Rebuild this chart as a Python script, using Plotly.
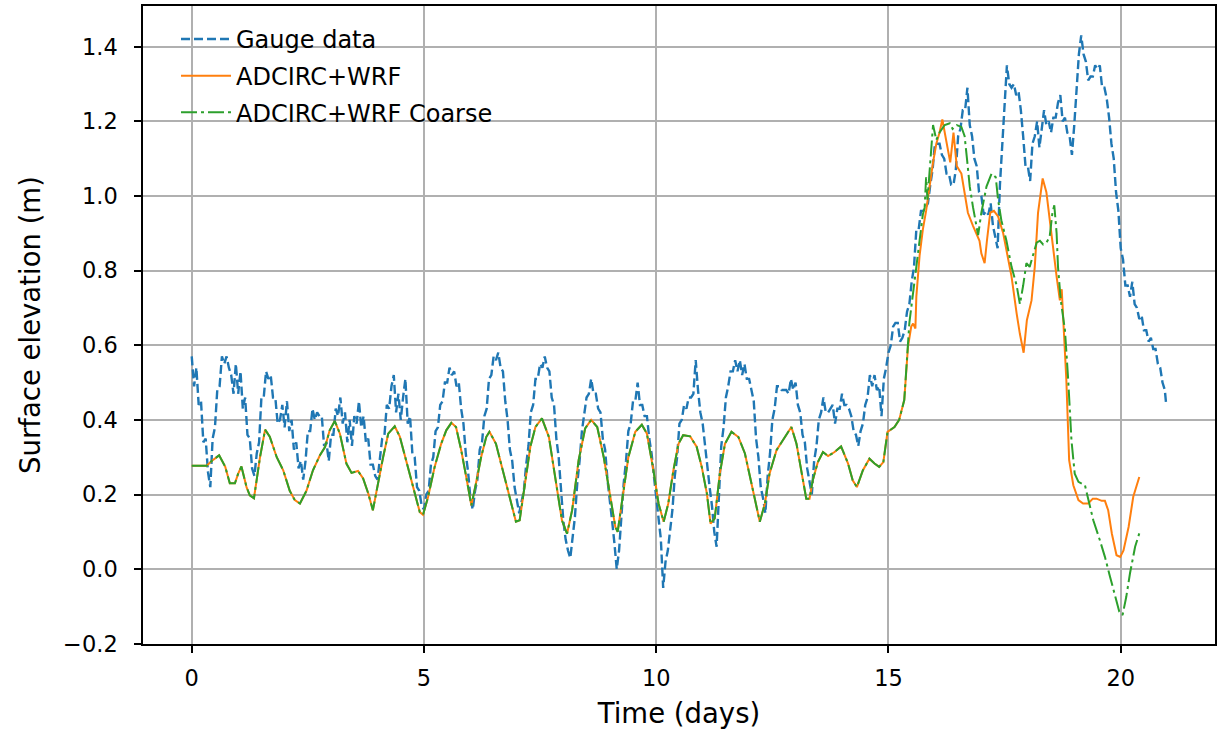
import plotly.graph_objects as go

# ---------------- data ----------------
gauge_t = [
    0.00, 0.05, 0.10, 0.15, 0.20, 0.25, 0.30, 0.35, 0.40, 0.45, 0.50, 0.55, 0.60, 0.65, 0.70, 0.75, 0.80, 0.85, 0.90, 0.95, 1.00,
    1.05, 1.10, 1.15, 1.20, 1.25, 1.30, 1.35, 1.40, 1.45, 1.50, 1.55, 1.60, 1.65, 1.70, 1.75, 1.80, 1.85, 1.90, 1.95, 2.00,
    2.05, 2.10, 2.15, 2.20, 2.25, 2.30, 2.35, 2.40, 2.45, 2.50, 2.55, 2.60, 2.65, 2.70, 2.75, 2.80, 2.85, 2.90, 2.95, 3.00,
    3.05, 3.10, 3.15, 3.20, 3.25, 3.30, 3.35, 3.40, 3.45, 3.50, 3.55, 3.60, 3.65, 3.70, 3.75, 3.80, 3.85, 3.90, 3.95, 4.00,
    4.05, 4.10, 4.15, 4.20, 4.25, 4.30, 4.35, 4.40, 4.45, 4.50, 4.55, 4.60, 4.65, 4.70, 4.75, 4.80, 4.85, 4.90, 4.95, 5.00,
    5.05, 5.10, 5.15, 5.20, 5.25, 5.30, 5.35, 5.40, 5.45, 5.50, 5.55, 5.60, 5.65, 5.70, 5.75, 5.80, 5.85, 5.90, 5.95, 6.00,
    6.05, 6.10, 6.15, 6.20, 6.25, 6.30, 6.35, 6.40, 6.45, 6.50, 6.55, 6.60, 6.65, 6.70, 6.75, 6.80, 6.85, 6.90, 6.95, 7.00,
    7.05, 7.10, 7.15, 7.20, 7.25, 7.30, 7.35, 7.40, 7.45, 7.50, 7.55, 7.60, 7.65, 7.70, 7.75, 7.80, 7.85, 7.90, 7.95, 8.00,
    8.05, 8.10, 8.15, 8.20, 8.25, 8.30, 8.35, 8.40, 8.45, 8.50, 8.55, 8.60, 8.65, 8.70, 8.75, 8.80, 8.85, 8.90, 8.95, 9.00,
    9.05, 9.10, 9.15, 9.20, 9.25, 9.30, 9.35, 9.40, 9.45, 9.50, 9.55, 9.60, 9.65, 9.70, 9.75, 9.80, 9.85, 9.90, 9.95, 10.00,
    10.05, 10.10, 10.15, 10.20, 10.25, 10.30, 10.35, 10.40, 10.45, 10.50, 10.55, 10.60, 10.65, 10.70, 10.75, 10.80, 10.85, 10.90, 10.95, 11.00,
    11.05, 11.10, 11.15, 11.20, 11.25, 11.30, 11.35, 11.40, 11.45, 11.50, 11.55, 11.60, 11.65, 11.70, 11.75, 11.80, 11.85, 11.90, 11.95, 12.00,
    12.05, 12.10, 12.15, 12.20, 12.25, 12.30, 12.35, 12.40, 12.45, 12.50, 12.55, 12.60, 12.65, 12.70, 12.75, 12.80, 12.85, 12.90, 12.95, 13.00,
    13.05, 13.10, 13.15, 13.20, 13.25, 13.30, 13.35, 13.40, 13.45, 13.50, 13.55, 13.60, 13.65, 13.70, 13.75, 13.80, 13.85, 13.90, 13.95, 14.00,
    14.05, 14.10, 14.15, 14.20, 14.25, 14.30, 14.35, 14.40, 14.45, 14.50, 14.55, 14.60, 14.65, 14.70, 14.75, 14.80, 14.85, 14.90, 14.95, 15.00,
    15.05, 15.10, 15.15, 15.20, 15.25, 15.30, 15.35, 15.40, 15.45, 15.50, 15.55, 15.60, 15.65, 15.70, 15.75, 15.80, 15.85, 15.90, 15.95, 16.00,
    16.05, 16.10, 16.15, 16.20, 16.25, 16.30, 16.35, 16.40, 16.45, 16.50, 16.55, 16.60, 16.65, 16.70, 16.75, 16.80, 16.85, 16.90, 16.95, 17.00,
    17.05, 17.10, 17.15, 17.20, 17.25, 17.30, 17.35, 17.40, 17.45, 17.50, 17.55, 17.60, 17.65, 17.70, 17.75, 17.80, 17.85, 17.90, 17.95, 18.00,
    18.05, 18.10, 18.15, 18.20, 18.25, 18.30, 18.35, 18.40, 18.45, 18.50, 18.55, 18.60, 18.65, 18.70, 18.75, 18.80, 18.85, 18.90, 18.95, 19.00,
    19.05, 19.10, 19.15, 19.20, 19.25, 19.30, 19.35, 19.40, 19.45, 19.50, 19.55, 19.60, 19.65, 19.70, 19.75, 19.80, 19.85, 19.90, 19.95, 20.00,
    20.05, 20.10, 20.15, 20.20, 20.25, 20.30, 20.35, 20.40, 20.45, 20.50, 20.55, 20.60, 20.65, 20.70, 20.75, 20.80, 20.85, 20.90, 20.95, 20.98]
gauge_y = [
    0.57, 0.49, 0.54, 0.44, 0.45, 0.34, 0.35, 0.26, 0.22, 0.35, 0.38, 0.48, 0.49, 0.57, 0.55, 0.57, 0.54, 0.52, 0.47, 0.55, 0.47,
    0.53, 0.43, 0.46, 0.36, 0.35, 0.27, 0.25, 0.31, 0.34, 0.46, 0.46, 0.53, 0.51, 0.52, 0.46, 0.46, 0.39, 0.40, 0.44, 0.38,
    0.45, 0.37, 0.40, 0.32, 0.34, 0.27, 0.29, 0.24, 0.29, 0.37, 0.37, 0.43, 0.40, 0.42, 0.41, 0.41, 0.33, 0.34, 0.29, 0.36,
    0.36, 0.43, 0.41, 0.46, 0.39, 0.42, 0.34, 0.40, 0.33, 0.41, 0.39, 0.45, 0.38, 0.41, 0.34, 0.35, 0.28, 0.28, 0.25, 0.24,
    0.29, 0.35, 0.36, 0.44, 0.43, 0.49, 0.52, 0.42, 0.47, 0.40, 0.46, 0.51, 0.39, 0.41, 0.31, 0.30, 0.22, 0.21, 0.17, 0.16,
    0.20, 0.21, 0.28, 0.30, 0.37, 0.38, 0.44, 0.45, 0.50, 0.50, 0.54, 0.52, 0.53, 0.49, 0.50, 0.43, 0.39, 0.31, 0.26, 0.19,
    0.16, 0.21, 0.24, 0.32, 0.34, 0.41, 0.43, 0.51, 0.52, 0.57, 0.56, 0.58, 0.54, 0.53, 0.45, 0.40, 0.32, 0.29, 0.22, 0.18,
    0.15, 0.18, 0.21, 0.28, 0.33, 0.42, 0.44, 0.51, 0.51, 0.55, 0.54, 0.57, 0.54, 0.53, 0.46, 0.44, 0.35, 0.30, 0.20, 0.13,
    0.08, 0.05, 0.03, 0.09, 0.14, 0.23, 0.29, 0.37, 0.41, 0.46, 0.47, 0.51, 0.47, 0.47, 0.43, 0.42, 0.35, 0.32, 0.24, 0.19,
    0.13, 0.07, 0.00, 0.05, 0.14, 0.23, 0.29, 0.37, 0.39, 0.45, 0.45, 0.50, 0.44, 0.44, 0.41, 0.41, 0.35, 0.31, 0.25, 0.19,
    0.13, 0.08, -0.05, 0.02, 0.05, 0.10, 0.16, 0.25, 0.30, 0.39, 0.40, 0.44, 0.43, 0.46, 0.46, 0.47, 0.56, 0.48, 0.42, 0.39,
    0.33, 0.28, 0.22, 0.17, 0.10, 0.06, 0.21, 0.33, 0.38, 0.46, 0.49, 0.53, 0.53, 0.56, 0.53, 0.56, 0.52, 0.55, 0.51, 0.51,
    0.48, 0.45, 0.35, 0.30, 0.22, 0.19, 0.15, 0.25, 0.31, 0.40, 0.43, 0.49, 0.49, 0.48, 0.48, 0.48, 0.47, 0.51, 0.48, 0.50,
    0.44, 0.42, 0.36, 0.34, 0.27, 0.23, 0.20, 0.29, 0.33, 0.40, 0.42, 0.46, 0.42, 0.42, 0.43, 0.44, 0.39, 0.43, 0.43, 0.47,
    0.44, 0.44, 0.43, 0.41, 0.37, 0.36, 0.33, 0.37, 0.39, 0.44, 0.46, 0.52, 0.49, 0.52, 0.48, 0.49, 0.41, 0.51, 0.54, 0.58,
    0.60, 0.65, 0.66, 0.66, 0.61, 0.62, 0.64, 0.69, 0.71, 0.77, 0.81, 0.91, 0.91, 0.96, 0.96, 0.97, 0.98, 1.03, 1.07, 1.14,
    1.14, 1.14, 1.11, 1.10, 1.06, 1.06, 1.03, 1.03, 1.07, 1.16, 1.18, 1.23, 1.23, 1.29, 1.19, 1.16, 1.10, 1.08, 1.01, 1.00,
    0.95, 0.96, 0.95, 0.98, 0.92, 0.89, 0.86, 1.03, 1.14, 1.24, 1.35, 1.30, 1.29, 1.30, 1.27, 1.28, 1.23, 1.16, 1.08, 1.08,
    1.04, 1.14, 1.16, 1.20, 1.13, 1.18, 1.23, 1.19, 1.20, 1.17, 1.21, 1.21, 1.25, 1.27, 1.20, 1.21, 1.17, 1.16, 1.11, 1.19,
    1.28, 1.38, 1.43, 1.38, 1.36, 1.31, 1.32, 1.32, 1.35, 1.34, 1.35, 1.29, 1.29, 1.26, 1.21, 1.14, 1.10, 1.01, 0.96, 0.86,
    0.83, 0.76, 0.76, 0.73, 0.77, 0.71, 0.70, 0.67, 0.68, 0.64, 0.64, 0.61, 0.62, 0.59, 0.59, 0.55, 0.54, 0.50, 0.48, 0.44]

# model output, identical for both runs before ~day 15.4
model_t_early = [0.0, 0.32, 0.43, 0.59, 0.72, 0.82, 0.93, 1.0, 1.07, 1.18, 1.25, 1.34, 1.47, 1.58, 1.68,
                 1.83, 1.97, 2.11, 2.22, 2.33, 2.47, 2.61, 2.76, 2.87, 2.97, 3.08, 3.19, 3.33, 3.44,
                 3.58, 3.69, 3.80, 3.90, 4.01, 4.12, 4.23, 4.37, 4.48, 4.62, 4.76, 4.91, 4.98, 5.09,
                 5.23, 5.37, 5.48, 5.59, 5.69, 5.80, 5.91, 6.02, 6.12, 6.23, 6.34, 6.41, 6.55, 6.70,
                 6.84, 6.98, 7.06, 7.20, 7.29, 7.40, 7.54, 7.69, 7.83, 7.97, 8.08, 8.19, 8.33, 8.47,
                 8.60, 8.73, 8.87, 9.01, 9.12, 9.17, 9.26, 9.40, 9.55, 9.69, 9.80, 9.94, 10.05,
                 10.16, 10.26, 10.37, 10.48, 10.58, 10.73, 10.87, 10.98, 11.09, 11.17, 11.26, 11.37,
                 11.48, 11.62, 11.77, 11.91, 12.05, 12.16, 12.23, 12.34, 12.44, 12.59, 12.73, 12.91,
                 13.02, 13.12, 13.23, 13.30, 13.37, 13.48, 13.59, 13.70, 13.84, 13.98, 14.13, 14.23,
                 14.32, 14.45, 14.59, 14.70, 14.80, 14.89, 14.98, 15.13, 15.23, 15.34, 15.42]
model_y_early = [0.277, 0.277, 0.29, 0.305, 0.275, 0.23, 0.23, 0.256, 0.275, 0.22, 0.198, 0.19, 0.30, 0.374, 0.355,
                 0.30, 0.265, 0.21, 0.185, 0.176, 0.21, 0.265, 0.305, 0.327, 0.372, 0.397, 0.363, 0.283, 0.258,
                 0.263, 0.243, 0.203, 0.158, 0.23, 0.30, 0.363, 0.383, 0.355, 0.29, 0.22, 0.153, 0.146, 0.194,
                 0.274, 0.336, 0.372, 0.392, 0.381, 0.32, 0.247, 0.171, 0.23, 0.30, 0.354, 0.368, 0.336, 0.265,
                 0.194, 0.127, 0.131, 0.247, 0.328, 0.381, 0.404, 0.354, 0.238, 0.131, 0.095, 0.158, 0.292, 0.377,
                 0.40, 0.381, 0.30, 0.194, 0.113, 0.10, 0.176, 0.30, 0.368, 0.387, 0.363, 0.265, 0.176,
                 0.127, 0.176, 0.265, 0.336, 0.359, 0.356, 0.328, 0.274, 0.203, 0.122, 0.136, 0.256,
                 0.336, 0.368, 0.354, 0.31, 0.23, 0.158, 0.127, 0.176, 0.256, 0.319, 0.346, 0.381,
                 0.336, 0.265, 0.189, 0.189, 0.238, 0.287, 0.314, 0.303, 0.314, 0.329, 0.283, 0.238,
                 0.22, 0.265, 0.296, 0.283, 0.274, 0.287, 0.368, 0.381, 0.40, 0.453, 0.596]

wrf_t_late = [15.49, 15.53, 15.58, 15.60, 15.67, 15.74, 15.81, 15.88, 15.96, 16.03, 16.10, 16.16, 16.23,
              16.33, 16.40, 16.47, 16.57, 16.64, 16.71, 16.82, 16.96, 17.0, 17.07, 17.12, 17.19, 17.27,
              17.36, 17.47, 17.58, 17.65, 17.76, 17.83, 17.91, 17.98, 18.08, 18.15, 18.22, 18.32, 18.40,
              18.47, 18.55, 18.62, 18.69, 18.73, 18.83, 18.89, 18.98, 19.09, 19.19, 19.30, 19.40, 19.48,
              19.59, 19.66, 19.73, 19.81, 19.91, 19.99, 20.06, 20.17, 20.27, 20.32, 20.40]
wrf_y_late = [0.65, 0.658, 0.645, 0.73, 0.84, 0.91, 0.96, 1.025, 1.09, 1.14, 1.17, 1.205, 1.16,
              1.09, 1.17, 1.08, 1.06, 1.01, 0.955, 0.92, 0.88, 0.846, 0.82, 0.88, 0.955, 0.96,
              0.945, 0.90, 0.83, 0.784, 0.685, 0.63, 0.58, 0.667, 0.72, 0.81, 0.955, 1.047, 1.01,
              0.935, 0.846, 0.784, 0.72, 0.75, 0.506, 0.292, 0.225, 0.185, 0.176, 0.176, 0.189, 0.189,
              0.183, 0.183, 0.158, 0.095, 0.0375, 0.033, 0.05, 0.113, 0.194, 0.216, 0.247]

coarse_t_late = [15.45, 15.56, 15.67, 15.74, 15.78, 15.81, 15.84, 15.88, 15.96, 16.03, 16.10, 16.21,
                 16.32, 16.38, 16.47, 16.57, 16.64, 16.69, 16.75, 16.82, 16.89, 16.93, 17.0, 17.11,
                 17.22, 17.31, 17.36, 17.43, 17.54, 17.65, 17.76, 17.83, 17.90, 17.97, 18.04, 18.12,
                 18.19, 18.26, 18.33, 18.40, 18.47, 18.53, 18.57, 18.62, 18.65, 18.71, 18.80, 18.87,
                 18.94, 19.01, 19.09, 19.23, 19.30, 19.41, 19.55, 19.66, 19.77, 19.88, 19.97, 20.04,
                 20.12, 20.20, 20.31, 20.40]
coarse_y_late = [0.66, 0.77, 0.88, 0.95, 0.97, 1.05, 0.99, 1.06, 1.19, 1.15, 1.17, 1.19,
                 1.195, 1.18, 1.19, 1.185, 1.16, 1.10, 1.025, 0.97, 0.92, 0.895, 0.955, 1.025,
                 1.06, 1.05, 0.99, 0.935, 0.88, 0.81, 0.76, 0.71, 0.76, 0.82, 0.81, 0.846,
                 0.875, 0.88, 0.87, 0.875, 0.89, 0.955, 0.975, 0.90, 0.81, 0.72, 0.64, 0.506,
                 0.345, 0.256, 0.234, 0.225, 0.185, 0.131, 0.078, 0.033, -0.02, -0.074, -0.114, -0.123,
                 -0.074, -0.011, 0.06, 0.096]

series_names = ["Gauge data", "ADCIRC+WRF", "ADCIRC+WRF Coarse"]
x_ticks = [0, 5, 10, 15, 20]
y_ticks = [-0.2, 0.0, 0.2, 0.4, 0.6, 0.8, 1.0, 1.2, 1.4]
y_tick_labels = ["\u22120.2", "0.0", "0.2", "0.4", "0.6", "0.8", "1.0", "1.2", "1.4"]

# ---------------- figure ----------------
FONT = "DejaVu Sans"
fig = go.Figure()
fig.add_trace(go.Scatter(x=gauge_t, y=gauge_y, mode="lines", name=series_names[0],
                         legendgroup="g1",
                         line=dict(color="#1f77b4", width=2.4, dash="9px,4px")))
fig.add_trace(go.Scatter(x=model_t_early + wrf_t_late, y=model_y_early + wrf_y_late, mode="lines",
                         name=series_names[1], legendgroup="g2",
                         line=dict(color="#ff7f0e", width=2)))
fig.add_trace(go.Scatter(x=model_t_early + coarse_t_late, y=model_y_early + coarse_y_late, mode="lines",
                         name=series_names[2], legendgroup="g3",
                         line=dict(color="#2ca02c", width=2, dash="16px,4px,3px,4px")))

axis_common = dict(showline=True, linecolor="black", linewidth=1.5, mirror=True,
                   showgrid=True, gridcolor="#b0b0b0", gridwidth=2, zeroline=False,
                   ticks="outside", ticklen=7, tickwidth=1.5, tickcolor="black",
                   automargin=False,
                   tickfont=dict(family=FONT, size=22.5, color="black"))

fig.update_layout(
    width=1225, height=729,
    margin=dict(l=143, r=10, t=6, b=85),
    paper_bgcolor="white", plot_bgcolor="white",
    font=dict(family=FONT, color="black"),
    showlegend=True,
    legend=dict(x=0.0308, y=0.983, xanchor="left", yanchor="top", bgcolor="rgba(0,0,0,0)",
                font=dict(family=FONT, size=24, color="black"), itemwidth=50,
                tracegroupgap=2.5),
    xaxis=dict(range=[-1.049, 22.03], tickvals=x_ticks, ticktext=[str(v) for v in x_ticks],
               ticklabelstandoff=6,
               title=dict(text="Time (days)", font=dict(family=FONT, size=27.5, color="black"), standoff=15),
               **axis_common),
    yaxis=dict(range=[-0.2005, 1.509], tickvals=y_ticks, ticktext=y_tick_labels,
               ticklabelstandoff=12,
               title=dict(text="Surface elevation (m)", font=dict(family=FONT, size=27.5, color="black"), standoff=14),
               **axis_common),
)

fig.write_html("out.html", config={"displayModeBar": False},
               post_script="document.body.style.margin='0';document.body.style.overflow='hidden';")
